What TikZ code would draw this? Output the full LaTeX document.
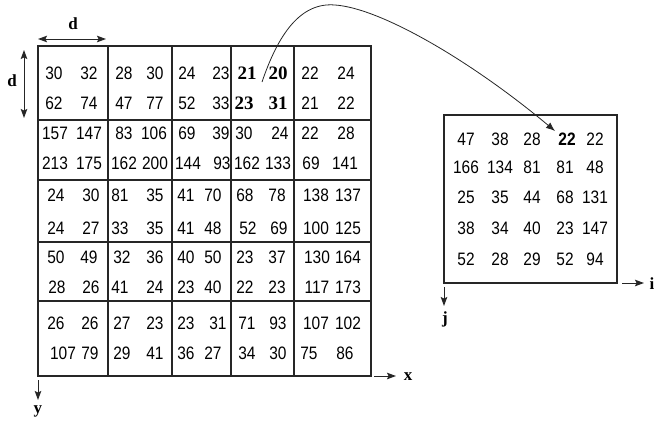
\documentclass[tikz,border=0pt]{standalone}
\usepackage{fontspec}
\setmainfont{Liberation Sans}
\newfontfamily\numfont{Liberation Sans}[FakeStretch=0.86]
\newfontfamily\serifb{Liberation Serif}
\usetikzlibrary{arrows.meta}
\newcount\numcnt
\newcommand\numpair[5]{%
  \global\advance\numcnt by 1
  \node[num] (v\the\numcnt a) at (#1,#3) {#4};
  \node[num] (v\the\numcnt b) at (#2,#3) {#5};
}
\begin{document}
\begin{tikzpicture}[x=1pt,y=-1pt,
  num/.style={font=\numfont\fontsize{18}{18}\selectfont, inner sep=0pt, text height=12.9pt, text depth=0pt, anchor=center},
  bnum/.style={font=\serifb\bfseries\fontsize{19}{19}\selectfont, inner sep=0pt, text height=12.8pt, text depth=0pt, anchor=center},
  snum/.style={font=\numfont\bfseries\fontsize{18}{18}\selectfont, inner sep=0pt, text height=12.9pt, text depth=0pt, anchor=center},
  lbl/.style={font=\serifb\bfseries\fontsize{17}{17}\selectfont, inner sep=0pt},
  grid/.style={draw=black!85, line width=1.3pt},
  tip/.style={-{Stealth[length=9pt,width=6.5pt,inset=1.5pt]}, line width=1pt, draw=black!85},
  dtip/.style={{Stealth[length=9pt,width=6.5pt,inset=1.5pt]}-{Stealth[length=9pt,width=6.5pt,inset=1.5pt]}, line width=1pt, draw=black!85}
]
\useasboundingbox (0,0) rectangle (654,421);
% main grid
\draw[grid] (38,46) rectangle (371,376);
\foreach \xx in {108,172,231,294} \draw[grid] (\xx,46) -- (\xx,376);
\foreach \yy in {120,180,242,301} \draw[grid] (38,\yy) -- (371,\yy);
% row 1
\numpair{54}{89}{73}{30}{32}
\numpair{54}{89}{103}{62}{74}
\numpair{124}{155}{73}{28}{30}
\numpair{124}{155}{103}{47}{77}
\numpair{187}{221}{73}{24}{23}
\numpair{187}{221}{103}{52}{33}
\node[bnum] (b1) at (247,73) {21};
\node[bnum] (b2) at (278,73) {20};
\node[bnum] (b3) at (244,103) {23};
\node[bnum] (b4) at (278,103) {31};
\numpair{310}{346}{73}{22}{24}
\numpair{310}{346}{103}{21}{22}
% row 2
\numpair{55}{89}{133}{157}{147}
\numpair{55}{89}{163}{213}{175}
\numpair{124}{154}{133}{83}{106}
\numpair{124}{155}{163}{162}{200}
\numpair{187}{221}{133}{69}{39}
\numpair{188}{222}{163}{144}{93}
\numpair{244}{280}{133}{30}{24}
\numpair{247}{278}{163}{162}{133}
\numpair{310}{346}{133}{22}{28}
\numpair{311}{345}{163}{69}{141}
% row 3
\numpair{56}{91}{195}{24}{30}
\numpair{56}{91}{228}{24}{27}
\numpair{120}{155}{195}{81}{35}
\numpair{120}{155}{228}{33}{35}
\numpair{186}{213}{195}{41}{70}
\numpair{186}{213}{228}{41}{48}
\numpair{245}{277}{195}{68}{78}
\numpair{248}{279}{228}{52}{69}
\numpair{316}{348}{195}{138}{137}
\numpair{316}{348}{228}{100}{125}
% row 4
\numpair{56}{89}{257}{50}{49}
\numpair{57}{91}{287}{28}{26}
\numpair{122}{155}{257}{32}{36}
\numpair{120}{155}{287}{41}{24}
\numpair{186}{213}{257}{40}{50}
\numpair{186}{213}{287}{23}{40}
\numpair{245}{277}{257}{23}{37}
\numpair{245}{277}{287}{22}{23}
\numpair{317}{348}{257}{130}{164}
\numpair{317}{348}{287}{117}{173}
% row 5
\numpair{56}{90}{323}{26}{26}
\numpair{63}{90}{353}{107}{79}
\numpair{122}{155}{323}{27}{23}
\numpair{122}{155}{353}{29}{41}
\numpair{186}{218}{323}{23}{31}
\numpair{186}{213}{353}{36}{27}
\numpair{247}{278}{323}{71}{93}
\numpair{247}{278}{353}{34}{30}
\numpair{316}{348}{323}{107}{102}
\numpair{309}{345}{353}{75}{86}
% d arrows
\coordinate (dh1) at (38,39);
\coordinate (dh2) at (106,39);
\draw[dtip] (dh1) -- (dh2);
\node[lbl] (dlh) at (73,24) {d};
\coordinate (dv1) at (24,50);
\coordinate (dv2) at (24,118);
\draw[dtip] (dv1) -- (dv2);
\node[lbl] (dlv) at (12,81) {d};
% axes main
\coordinate (xa) at (374,376);
\coordinate (xb) at (396,376);
\draw[tip] (xa) -- (xb);
\node[lbl] (xl) at (408,377) {x};
\coordinate (ya) at (38,380);
\coordinate (yb) at (38,400);
\draw[tip] (ya) -- (yb);
\node[lbl] (yl) at (38,411) {y};
% right box
\draw[grid] (444,115) rectangle (617,283);
\foreach \yy/\ra/\rb/\rc/\rd/\re in {167/166/134/81/81/48, 197/25/35/44/68/131, 228/38/34/40/23/147, 259/52/28/29/52/94}{
  \node[num] (r\yy a) at (466,\yy) {\ra};
  \node[num] (r\yy b) at (500,\yy) {\rb};
  \node[num] (r\yy c) at (532,\yy) {\rc};
  \node[num] (r\yy d) at (565,\yy) {\rd};
  \node[num] (r\yy e) at (595,\yy) {\re};
}
\node[num] (r1a) at (466,139) {47};
\node[num] (r1b) at (500,139) {38};
\node[num] (r1c) at (532,139) {28};
\node[snum] (r1d) at (567,139) {22};
\node[num] (r1e) at (595,139) {22};
% axes right
\coordinate (ia) at (622,283);
\coordinate (ib) at (644,283);
\draw[tip] (ia) -- (ib);
\node[lbl] (il) at (652,284) {i};
\coordinate (ja) at (444,287);
\coordinate (jb) at (444,306);
\draw[tip] (ja) -- (jb);
\node[lbl] (jl) at (445,319) {j};
% curve
\coordinate (cs) at (262,82);
\coordinate (cp) at (335,5);
\coordinate (ce) at (555,131);
\draw[line width=0.8pt, draw=black!85, -{Latex[length=9pt,width=7pt]}] (cs) .. controls (278,35) and (300,2) .. (cp) .. controls (380,8) and (470,60) .. (ce);
\end{tikzpicture}
\end{document}
